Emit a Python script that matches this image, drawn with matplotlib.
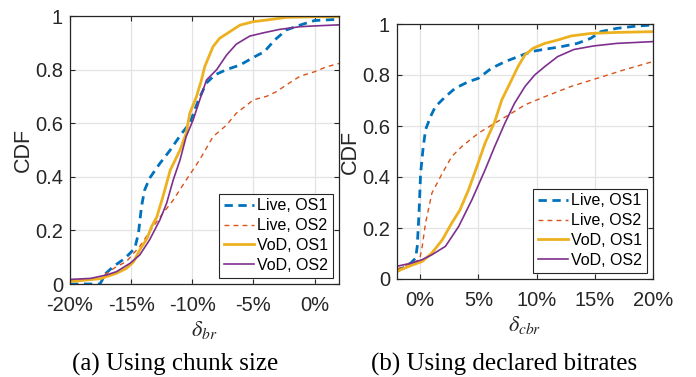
import matplotlib
matplotlib.use("Agg")
import matplotlib.pyplot as plt

plt.rcParams['font.family'] = ['Liberation Sans', 'DejaVu Sans']
plt.rcParams['mathtext.fontset'] = 'stix'

# ---- Data (x in percent, y = CDF) ----
# (a) Using chunk size
a_live1_x = [-20, -17.55, -17.06, -16.46, -15.5, -14.7, -14.4, -14.15, -13.9, -13.5, -12.65, -11.8, -10.9, -10.2, -9.5, -8.84, -8.16, -7.2, -6.1, -4.9, -4.1, -3.27, -2.3, -1.2, 0, 2]
a_live1_y = [0.0, 0.0, 0.04, 0.065, 0.096, 0.133, 0.19, 0.29, 0.35, 0.394, 0.45, 0.5, 0.56, 0.6, 0.686, 0.75, 0.78, 0.8, 0.817, 0.848, 0.867, 0.91, 0.948, 0.966, 0.983, 0.988]

a_live2_x = [-20, -17.5, -17.0, -16.2, -15.4, -14.3, -13.2, -12.4, -11.56, -10.5, -9.4, -8.3, -7.2, -6.4, -5.0, -3.94, -3.1, -2.3, -1.2, 0, 0.95, 2]
a_live2_y = [0.015, 0.02, 0.04, 0.065, 0.083, 0.14, 0.214, 0.264, 0.313, 0.388, 0.463, 0.55, 0.593, 0.637, 0.687, 0.70, 0.718, 0.743, 0.775, 0.792, 0.81, 0.823]

a_vod1_x = [-20, -17.5, -16.2, -15.4, -14.8, -14.3, -13.7, -13.33, -12.9, -12.4, -11.8, -11.0, -10.5, -10.2, -9.66, -9.25, -8.98, -8.3, -7.76, -6.94, -6.1, -5.0, -3.9, -2.3, 0, 2]
a_vod1_y = [0.009, 0.02, 0.04, 0.058, 0.083, 0.127, 0.17, 0.214, 0.25, 0.326, 0.425, 0.5, 0.562, 0.637, 0.699, 0.761, 0.811, 0.886, 0.917, 0.941, 0.966, 0.979, 0.985, 0.995, 0.997, 0.997]

a_vod2_x = [-20, -18.3, -17.0, -16.2, -15.1, -14.3, -13.5, -12.65, -12.1, -11.56, -11.0, -10.5, -9.93, -9.39, -8.84, -8.0, -7.2, -6.4, -5.3, -4.2, -2.86, -1.2, 0, 2]
a_vod2_y = [0.017, 0.021, 0.034, 0.046, 0.077, 0.108, 0.164, 0.239, 0.301, 0.388, 0.463, 0.55, 0.612, 0.687, 0.761, 0.80, 0.854, 0.895, 0.925, 0.937, 0.95, 0.96, 0.963, 0.967]

# (b) Using declared bitrates
b_live1_x = [-2, -1.5, -0.8, -0.4, -0.26, -0.11, 0.03, 0.23, 0.45, 0.88, 1.3, 2.16, 3.0, 4.15, 5.0, 6.1, 7.27, 8.4, 9.55, 10.7, 12.1, 13.5, 14.66, 15.5, 16.9, 18.6, 20]
b_live1_y = [0.03, 0.043, 0.063, 0.082, 0.128, 0.258, 0.415, 0.507, 0.585, 0.637, 0.676, 0.715, 0.748, 0.774, 0.787, 0.826, 0.852, 0.872, 0.892, 0.901, 0.911, 0.924, 0.944, 0.97, 0.983, 0.992, 0.996]

b_live2_x = [-2, -0.7, -0.06, 0.17, 0.45, 1.0, 1.9, 2.7, 3.58, 5.0, 6.4, 7.84, 9.0, 10.7, 12.95, 15.2, 17.5, 20]
b_live2_y = [0.039, 0.063, 0.076, 0.128, 0.219, 0.337, 0.415, 0.48, 0.52, 0.572, 0.611, 0.65, 0.683, 0.715, 0.755, 0.787, 0.82, 0.853]

b_vod1_x = [-2, -0.96, 0.17, 1.0, 1.9, 2.7, 3.4, 4.15, 4.86, 5.57, 6.4, 7.0, 7.7, 8.4, 9.0, 9.7, 10.7, 11.8, 12.95, 14.66, 16.9, 20]
b_vod1_y = [0.03, 0.05, 0.069, 0.102, 0.154, 0.219, 0.27, 0.35, 0.44, 0.533, 0.617, 0.702, 0.767, 0.833, 0.879, 0.905, 0.924, 0.937, 0.953, 0.963, 0.967, 0.97]

b_vod2_x = [-2, -0.7, 0.17, 1.0, 2.16, 3.3, 4.43, 5.57, 6.4, 7.27, 8.1, 9.0, 9.83, 10.7, 11.8, 13.2, 14.9, 16.9, 20]
b_vod2_y = [0.05, 0.063, 0.076, 0.095, 0.128, 0.206, 0.31, 0.428, 0.52, 0.611, 0.689, 0.755, 0.80, 0.833, 0.872, 0.90, 0.914, 0.924, 0.931]

labels = ['Live, OS1', 'Live, OS2', 'VoD, OS1', 'VoD, OS2']
a_xticks = [-20, -15, -10, -5, 0]
b_xticks = [0, 5, 10, 15, 20]
yticks = [0, 0.2, 0.4, 0.6, 0.8, 1]
ytick_labels = ['0', '0.2', '0.4', '0.6', '0.8', '1']

colors = ['#0072BD', '#D95319', '#EDB120', '#7E2F8E']

fig = plt.figure(figsize=(6.96, 3.77), dpi=100)
axA = fig.add_axes([70/696, 1-284/377, (339-70)/696, (284-16)/377])
axB = fig.add_axes([397/696, 1-279/377, (653-397)/696, (279-24)/377])


def style(ax, xlim, xticks, xlabel):
    ax.set_xlim(*xlim)
    ax.set_ylim(0, 1)
    ax.set_xticks(xticks)
    ax.set_xticklabels([f'{t}%' for t in xticks])
    ax.set_yticks(yticks)
    ax.set_yticklabels(ytick_labels)
    ax.grid(True, color='#e3e3e3', linewidth=0.9)
    ax.set_axisbelow(True)
    ax.tick_params(direction='in', top=True, right=True, labelsize=14.5,
                   length=3.5, width=0.8, color='#262626', labelcolor='#262626')
    ax.tick_params(axis='x', pad=8.5)
    ax.tick_params(axis='y', pad=5)
    for s in ax.spines.values():
        s.set_color('#262626')
        s.set_linewidth(0.9)
    ax.set_ylabel('CDF', fontsize=15.5, color='#262626', labelpad=1)
    ax.set_xlabel(xlabel, fontsize=16, labelpad=3, color='#262626')


def draw(ax, series):
    (x1, y1), (x2, y2), (x3, y3), (x4, y4) = series
    ax.plot(x1, y1, color=colors[0], lw=2.0, dashes=(3.0, 2.0), label=labels[0])
    ax.plot(x2, y2, color=colors[1], lw=1.0, dashes=(3.5, 3.0), label=labels[1])
    ax.plot(x3, y3, color=colors[2], lw=2.0, label=labels[2])
    ax.plot(x4, y4, color=colors[3], lw=1.2, label=labels[3])
    leg = ax.legend(loc='lower right', fontsize=11.5, handlelength=1.9, handletextpad=0.15,
                    labelspacing=0.3, borderpad=0.3, borderaxespad=0.4, fancybox=False,
                    framealpha=1, edgecolor='#262626')
    leg.get_frame().set_linewidth(0.8)
    for t in leg.get_texts():
        t.set_color('#000000')


draw(axA, [(a_live1_x, a_live1_y), (a_live2_x, a_live2_y), (a_vod1_x, a_vod1_y), (a_vod2_x, a_vod2_y)])
draw(axB, [(b_live1_x, b_live1_y), (b_live2_x, b_live2_y), (b_vod1_x, b_vod1_y), (b_vod2_x, b_vod2_y)])
style(axA, (-20, 2), a_xticks, r'$\delta_{br}$')
style(axB, (-2, 20), b_xticks, r'$\delta_{cbr}$')

fig.text(175/696, 6/377, '(a) Using chunk size', ha='center', va='baseline',
         fontsize=18, family=['Liberation Serif', 'DejaVu Serif'])
fig.text(504/696, 6/377, '(b) Using declared bitrates', ha='center', va='baseline',
         fontsize=18, family=['Liberation Serif', 'DejaVu Serif'])

fig.savefig('out.png', dpi=100)
